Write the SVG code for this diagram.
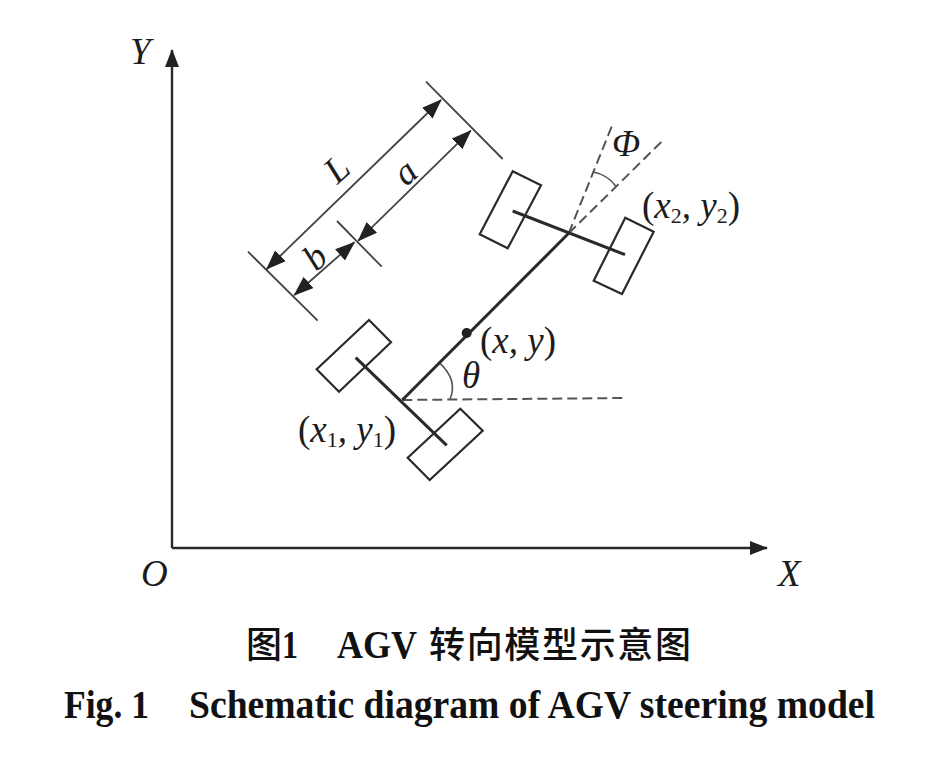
<svg xmlns="http://www.w3.org/2000/svg" width="944" height="760" viewBox="0 0 944 760">
<style>
.axis{stroke:#2a2a2a;stroke-width:2.4;fill:none}
.thin{stroke:#444;stroke-width:1.8;fill:none}
.dim{stroke:#444;stroke-width:1.8;fill:none;marker-start:url(#ah);marker-end:url(#ah)}
.dash{stroke:#555;stroke-width:2;fill:none;stroke-dasharray:10 5}
.wheel{stroke:#2a2a2a;stroke-width:2.2;fill:#fff}
.bar{stroke:#2a2a2a;stroke-width:3;fill:none}
.arc{stroke:#555;stroke-width:1.6;fill:none}
text{fill:#1c1c1c}
.m{font-family:"Liberation Serif",serif;font-style:italic;font-size:37px}
.u{font-style:normal}
.s{font-style:normal;font-size:22px}
.cap{font-family:"Liberation Serif","Noto Sans CJK SC",serif;font-weight:700;font-size:39px;fill:#111}
.cjk{font-family:"Noto Sans CJK SC",sans-serif;font-weight:500;font-size:36px;fill:#111}
</style>
<defs>
<marker id="ah" viewBox="0 0 20 15" refX="19" refY="7.5" markerWidth="20" markerHeight="15" markerUnits="userSpaceOnUse" orient="auto-start-reverse"><path d="M0 0L20 7.5L0 15Z" fill="#222"/></marker>
<marker id="ax" viewBox="0 0 18 14" refX="17" refY="7" markerWidth="18" markerHeight="14" markerUnits="userSpaceOnUse" orient="auto"><path d="M0 0L18 7L0 14Z" fill="#222"/></marker>
</defs>
<rect width="944" height="760" fill="#fff"/>
<g id="connectors">
<path class="axis" d="M172 548H767" marker-end="url(#ax)"/>
<path class="axis" d="M172 548V50" marker-end="url(#ax)"/>
<path class="thin" d="M426 81.7L502.7 159M337 221L381.7 266.7M248 251.7L317.7 320.7"/>
<path class="dim" d="M266.7 269L441 100"/>
<path class="dim" d="M358.3 240.7L470.7 130.7"/>
<path class="dim" d="M294.3 295L354.3 242.3"/>
<path class="dash" d="M402.3 400L624 398"/>
<path class="dash" d="M568.7 233.3L612.3 125"/>
<path class="dash" d="M568.7 233.3L663.3 140"/>
<path class="arc" d="M440 363.3Q458 380 450 399.3"/>
<path class="arc" d="M592.7 171.7Q608 175 615.7 186"/>
</g>
<g id="wheel-rear-left"><path class="wheel" d="M369 320L391 342.3L339 391.7L316.7 369.3Z"/></g>
<g id="wheel-rear-right"><path class="wheel" d="M460.3 408.7L482.7 430.7L429.7 480L407.7 457.7Z"/></g>
<g id="wheel-front-left"><path class="wheel" d="M512.7 171.3L541 185.3L507.7 248.3L479.7 234.3Z"/></g>
<g id="wheel-front-right"><path class="wheel" d="M625.3 217.7L653.7 231.7L622 294L593.7 280.7Z"/></g>
<g id="chassis">
<path class="bar" d="M355.7 357.7L446.7 445.3"/>
<path class="bar" d="M512.7 211L625 254.7"/>
<path class="bar" d="M402.3 400L568.7 233.3"/>
<circle cx="466.7" cy="333" r="5" fill="#222"/>
</g>
<g id="labels">
<text class="m" x="130" y="64">Y</text>
<text class="m" x="141" y="586">O</text>
<text class="m" x="778" y="586">X</text>
<text class="m" transform="translate(345 178) rotate(-42)" text-anchor="middle">L</text>
<text class="m" transform="translate(413 181) rotate(-42)" text-anchor="middle">a</text>
<text class="m" transform="translate(323 266) rotate(-42)" text-anchor="middle">b</text>
<text class="m" x="612" y="156">Φ</text>
<text class="m" x="462" y="388">θ</text>
<text class="m" x="480" y="353"><tspan class="u">(</tspan>x, y<tspan class="u">)</tspan></text>
<text class="m" x="298" y="442"><tspan class="u">(</tspan>x<tspan class="s" dy="5">1</tspan><tspan dy="-5">, y</tspan><tspan class="s" dy="5">1</tspan><tspan class="u" dy="-5">)</tspan></text>
<text class="m" x="642" y="218"><tspan class="u">(</tspan>x<tspan class="s" dy="5">2</tspan><tspan dy="-5">, y</tspan><tspan class="s" dy="5">2</tspan><tspan class="u" dy="-5">)</tspan></text>
</g>
<g id="caption">
<text class="cjk" x="246" y="658">图</text>
<text class="cap" x="282" y="658" textLength="16" lengthAdjust="spacingAndGlyphs">1</text>
<text class="cap" x="337" y="658" textLength="80" lengthAdjust="spacingAndGlyphs">AGV</text>
<text class="cjk" x="429" y="658" textLength="262">转向模型示意图</text>
<text class="cap" x="64" y="718" textLength="85" lengthAdjust="spacingAndGlyphs">Fig. 1</text>
<text class="cap" x="189" y="718" textLength="686" lengthAdjust="spacingAndGlyphs">Schematic diagram of AGV steering model</text>
</g>
</svg>
